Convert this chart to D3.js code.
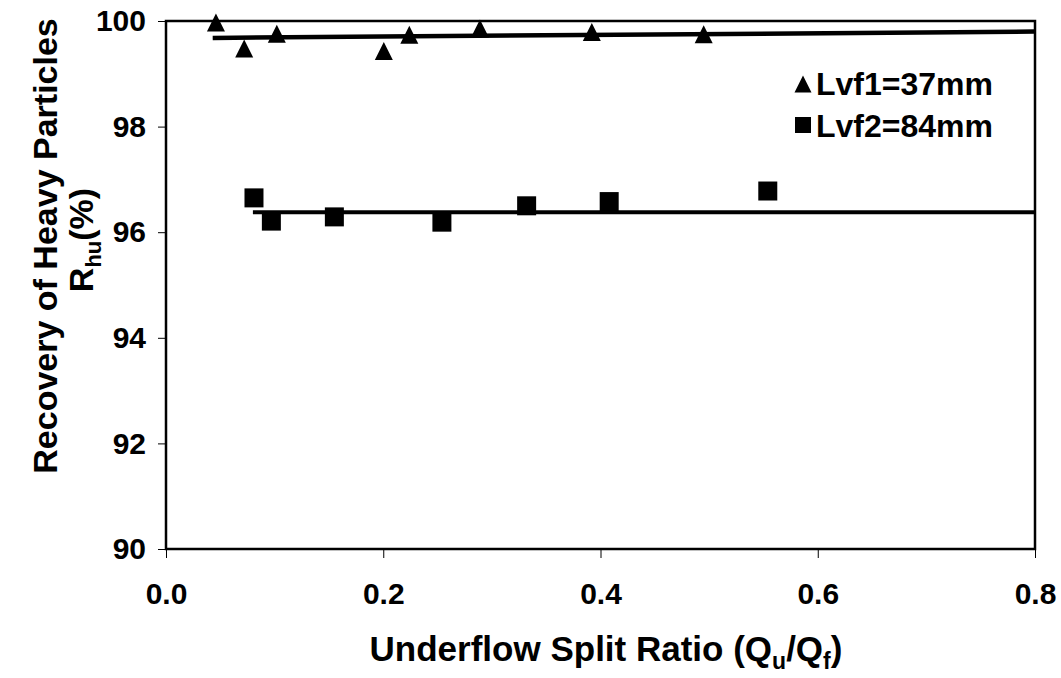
<!DOCTYPE html>
<html>
<head>
<meta charset="utf-8">
<script src="https://cdn.jsdelivr.net/npm/d3@7"></script>
<style>
  html, body { margin: 0; padding: 0; background: #fff; }
  svg { display: block; font-family: "Liberation Sans", Arial, sans-serif; font-weight: bold; }
</style>
</head>
<body>
<svg id="chart" width="1061" height="678"></svg>
<script>
// Underflow split ratio (Qu/Qf) vs recovery of heavy particles Rhu (%)
const xTicks = [0.0, 0.2, 0.4, 0.6, 0.8];
const yTicks = [90, 92, 94, 96, 98, 100];

// Lvf1 = 37 mm (triangles)
const lvf1X = [0.046, 0.072, 0.102, 0.2005, 0.224, 0.289, 0.392, 0.495];
const lvf1Y = [99.97, 99.48, 99.76, 99.43, 99.74, 99.86, 99.79, 99.75];

// Lvf2 = 84 mm (squares)
const lvf2X = [0.081, 0.097, 0.155, 0.254, 0.332, 0.408, 0.554];
const lvf2Y = [96.65, 96.21, 96.29, 96.19, 96.50, 96.58, 96.78];

// Trend lines, [x, y] end points
const lvf1Trend = [[0.043, 99.68], [0.8, 99.80]];
const lvf2Trend = [[0.080, 96.38], [0.8, 96.38]];

const legendLabels = ["Lvf1=37mm", "Lvf2=84mm"];

const svg = d3.select("#chart");
const x = d3.scaleLinear().domain([0, 0.8]).range([166, 1035]);
const y = d3.scaleLinear().domain([90, 100]).range([549, 21]);

// Plot frame
svg.append("rect")
  .attr("x", x(0)).attr("y", y(100))
  .attr("width", x(0.8) - x(0)).attr("height", y(90) - y(100))
  .attr("fill", "none").attr("stroke", "#000").attr("stroke-width", 2.5);

// Axes
const xAxis = svg.append("g")
  .attr("transform", `translate(0,${y(90)})`)
  .call(d3.axisBottom(x).tickValues(xTicks).tickSize(9).tickPadding(25).tickFormat(d3.format(".1f")));
const yAxis = svg.append("g")
  .attr("transform", `translate(${x(0)},0)`)
  .call(d3.axisLeft(y).tickValues(yTicks).tickSize(8).tickPadding(12).tickFormat(d3.format("d")));

[xAxis, yAxis].forEach(g => {
  g.select(".domain").remove();
  g.selectAll(".tick line").attr("stroke", "#000").attr("stroke-width", 1);
  g.selectAll(".tick text")
    .attr("fill", "#000")
    .style("font-family", "'Liberation Sans', Arial, sans-serif")
    .style("font-weight", "bold")
    .style("font-size", "30px");
});

// Marker shapes centred on (0,0)
const triPath = (w, h) => `M0,${-h / 2}L${w / 2},${h / 2}L${-w / 2},${h / 2}Z`;
const sqPath = s => `M${-s / 2},${-s / 2}h${s}v${s}h${-s}Z`;

const line = d3.line().x(d => x(d[0])).y(d => y(d[1]));

// Trend lines
svg.append("path").attr("d", line(lvf1Trend))
  .attr("fill", "none").attr("stroke", "#000").attr("stroke-width", 4.5);
svg.append("path").attr("d", line(lvf2Trend))
  .attr("fill", "none").attr("stroke", "#000").attr("stroke-width", 4);

// Points
const lvf1 = lvf1X.map((v, i) => [v, lvf1Y[i]]);
const lvf2 = lvf2X.map((v, i) => [v, lvf2Y[i]]);

svg.append("g").selectAll("path").data(lvf1).join("path")
  .attr("transform", d => `translate(${x(d[0])},${y(d[1])})`)
  .attr("d", triPath(18, 18)).attr("fill", "#000");

svg.append("g").selectAll("path").data(lvf2).join("path")
  .attr("transform", d => `translate(${x(d[0])},${y(d[1])})`)
  .attr("d", sqPath(19)).attr("fill", "#000");

// Legend
const legend = svg.append("g").attr("transform", "translate(803,0)");
legend.append("path").attr("transform", "translate(0,84)").attr("d", triPath(17, 17)).attr("fill", "#000");
legend.append("path").attr("transform", "translate(0,125)").attr("d", sqPath(16)).attr("fill", "#000");
legend.selectAll("text").data(legendLabels).join("text")
  .attr("x", 13).attr("y", (d, i) => 95 + i * 42)
  .attr("font-size", 32).attr("fill", "#000")
  .text(d => d);

// X axis title
const xt = svg.append("text")
  .attr("x", 606).attr("y", 661).attr("text-anchor", "middle")
  .attr("font-size", 35).attr("fill", "#000");
xt.append("tspan").text("Underflow Split Ratio (Q");
xt.append("tspan").attr("font-size", 23).attr("dy", 8).text("u");
xt.append("tspan").attr("dy", -8).text("/Q");
xt.append("tspan").attr("font-size", 23).attr("dy", 8).text("f");
xt.append("tspan").attr("dy", -8).text(")");

// Y axis title (two lines)
svg.append("text")
  .attr("transform", "translate(57,246) rotate(-90)")
  .attr("text-anchor", "middle").attr("font-size", 34).attr("fill", "#000")
  .text("Recovery of Heavy Particles");
const yt = svg.append("text")
  .attr("transform", "translate(93,240) rotate(-90)")
  .attr("text-anchor", "middle").attr("font-size", 34).attr("fill", "#000");
yt.append("tspan").text("R");
yt.append("tspan").attr("font-size", 22).attr("dy", 8).text("hu");
yt.append("tspan").attr("dy", -8).text("(%)");
</script>
</body>
</html>
